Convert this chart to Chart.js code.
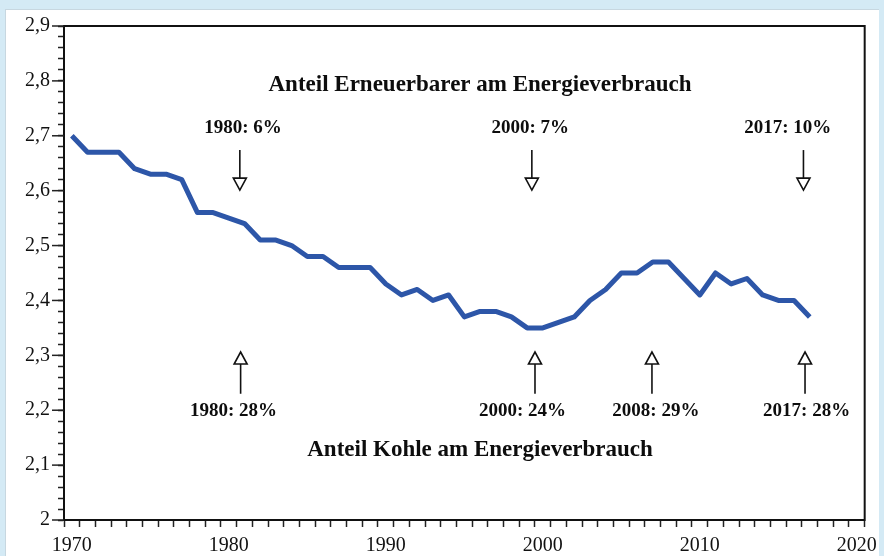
<!DOCTYPE html>
<html>
<head>
<meta charset="utf-8">
<script src="https://cdn.jsdelivr.net/npm/chart.js@4.4.1/dist/chart.umd.min.js"></script>
<style>
  html, body { margin: 0; padding: 0; }
  body { width: 884px; height: 556px; background: #d4eaf5; position: relative; overflow: hidden; }
  #panel { position: absolute; left: 5px; top: 9px; width: 873px; height: 560px; background: #fff; border-left: 1px solid #c7d7e0; border-top: 1px solid #c7d7e0; }
  #wrap { position: absolute; left: 0; top: 0; width: 884px; height: 556px; }
</style>
</head>
<body>
<div id="panel"></div>
<div id="wrap"><canvas id="grafico" width="884" height="556"></canvas></div>
<script>
// Jahre (Kategorien) 1970 bis 2020
const jahre = [];
for (let j = 1970; j <= 2020; j++) jahre.push(String(j));

const werte = [
  2.70, 2.67, 2.67, 2.67, 2.64, 2.63, 2.63, 2.62, 2.56, 2.56,
  2.55, 2.54, 2.51, 2.51, 2.50, 2.48, 2.48, 2.46, 2.46, 2.46,
  2.43, 2.41, 2.42, 2.40, 2.41, 2.37, 2.38, 2.38, 2.37, 2.35,
  2.35, 2.36, 2.37, 2.40, 2.42, 2.45, 2.45, 2.47, 2.47, 2.44,
  2.41, 2.45, 2.43, 2.44, 2.41, 2.40, 2.40, 2.37
];

const beschriftungJahre = ["1970", "1980", "1990", "2000", "2010", "2020"];

// Texte der Hinweise
const titelOben = "Anteil Erneuerbarer am Energieverbrauch";
const titelUnten = "Anteil Kohle am Energieverbrauch";
const hinweiseOben = ["1980: 6%", "2000: 7%", "2017: 10%"];
const hinweiseUnten = ["1980: 28%", "2000: 24%", "2008: 29%", "2017: 28%"];

// Positionen (Kategorie-Index) für Text und Pfeil
const posOben = [[10.9, 29.2, 45.6], [10.7, 29.3, 46.6]];
const posUnten = [[10.3, 28.7, 37.2, 46.8], [10.75, 29.5, 36.95, 46.7]];

function pfeil(ctx, x, yStart, yEnde, runter) {
  ctx.save();
  ctx.strokeStyle = "#111";
  ctx.lineWidth = 1.6;
  const kopf = 12;
  ctx.beginPath();
  if (runter) {
    ctx.moveTo(x, yStart);
    ctx.lineTo(x, yEnde - kopf);
  } else {
    ctx.moveTo(x, yStart + kopf);
    ctx.lineTo(x, yEnde);
  }
  ctx.stroke();
  ctx.beginPath();
  if (runter) {
    ctx.moveTo(x - 6.5, yEnde - kopf);
    ctx.lineTo(x + 6.5, yEnde - kopf);
    ctx.lineTo(x, yEnde);
  } else {
    ctx.moveTo(x - 6.5, yStart + kopf);
    ctx.lineTo(x + 6.5, yStart + kopf);
    ctx.lineTo(x, yStart);
  }
  ctx.closePath();
  ctx.fillStyle = "#fff";
  ctx.fill();
  ctx.stroke();
  ctx.restore();
}

const hinweisPlugin = {
  id: "hinweise",
  afterDraw(chart) {
    const ctx = chart.ctx;
    const x = chart.scales.x, y = chart.scales.y;
    const a = chart.chartArea;

    // Rahmen
    ctx.save();
    ctx.strokeStyle = "#111";
    ctx.lineWidth = 2;
    ctx.strokeRect(a.left, a.top, a.right - a.left, a.bottom - a.top);

    // längere Hauptstriche an der y-Achse
    ctx.lineWidth = 1.5;
    ctx.strokeStyle = "#222";
    y.ticks.forEach((t, i) => {
      if (t.label === "") return;
      const py = y.getPixelForTick(i);
      ctx.beginPath();
      ctx.moveTo(a.left - 12, py);
      ctx.lineTo(a.left, py);
      ctx.stroke();
    });
    ctx.restore();

    ctx.save();
    ctx.fillStyle = "#0d0d0d";
    ctx.textAlign = "center";
    ctx.textBaseline = "middle";
    ctx.font = "bold 23px 'Liberation Serif', 'DejaVu Serif', serif";
    ctx.fillText(titelOben, x.getPixelForValue(26.0), y.getPixelForValue(2.792));
    ctx.fillText(titelUnten, x.getPixelForValue(26.0), y.getPixelForValue(2.127));

    ctx.font = "bold 19px 'Liberation Serif', 'DejaVu Serif', serif";
    hinweiseOben.forEach((t, i) => {
      ctx.fillText(t, x.getPixelForValue(posOben[0][i]), y.getPixelForValue(2.714));
      pfeil(ctx, x.getPixelForValue(posOben[1][i]), y.getPixelForValue(2.674), y.getPixelForValue(2.601), true);
    });
    hinweiseUnten.forEach((t, i) => {
      ctx.fillText(t, x.getPixelForValue(posUnten[0][i]), y.getPixelForValue(2.199));
      pfeil(ctx, x.getPixelForValue(posUnten[1][i]), y.getPixelForValue(2.306), y.getPixelForValue(2.230), false);
    });
    ctx.restore();
  }
};

const datenVoll = jahre.map((j, i) => (i < werte.length ? werte[i] : null));

const ctx = document.getElementById("grafico").getContext("2d");
const chart = new Chart(ctx, {
  type: "line",
  data: {
    labels: jahre,
    datasets: [{
      data: datenVoll,
      borderColor: "#2d56a8",
      borderWidth: 5,
      pointRadius: 0,
      tension: 0,
      spanGaps: false,
      borderJoinStyle: "round"
    }]
  },
  options: {
    responsive: false,
    animation: false,
    devicePixelRatio: 1,
    layout: { padding: { top: 26, right: 17, left: 0, bottom: 0 } },
    plugins: {
      legend: { display: false },
      tooltip: { enabled: false }
    },
    scales: {
      x: {
        type: "category",
        offset: true,
        grid: {
          offset: true,
          drawOnChartArea: false,
          tickLength: 7,
          tickColor: "#222",
          tickWidth: 1.5
        },
        border: { display: true, color: "#111", width: 2 },
        ticks: {
          autoSkip: false,
          maxRotation: 0,
          minRotation: 0,
          padding: 7,
          color: "#111",
          font: { family: "'Liberation Serif', serif", size: 20 },
          callback: function (v, i) {
            const l = jahre[i];
            return beschriftungJahre.includes(l) ? l : "";
          }
        },
        afterFit: s => { s.height = 36; }
      },
      y: {
        min: 2,
        max: 2.9,
        grid: {
          drawOnChartArea: false,
          tickLength: 6,
          tickColor: "#222",
          tickWidth: 1.5
        },
        border: { display: true, color: "#111", width: 2 },
        ticks: {
          stepSize: 0.02,
          autoSkip: false,
          padding: 8,
          color: "#111",
          font: { family: "'Liberation Serif', serif", size: 20 },
          callback: function (v) {
            const z = v * 10;
            if (Math.abs(z - Math.round(z)) > 1e-6) return "";
            const r = Math.round(z) / 10;
            return r === 2 ? "2" : r.toFixed(1).replace(".", ",");
          }
        },
        afterFit: s => { s.width = 64; }
      }
    }
  },
  plugins: [hinweisPlugin]
});
</script>
</body>
</html>
